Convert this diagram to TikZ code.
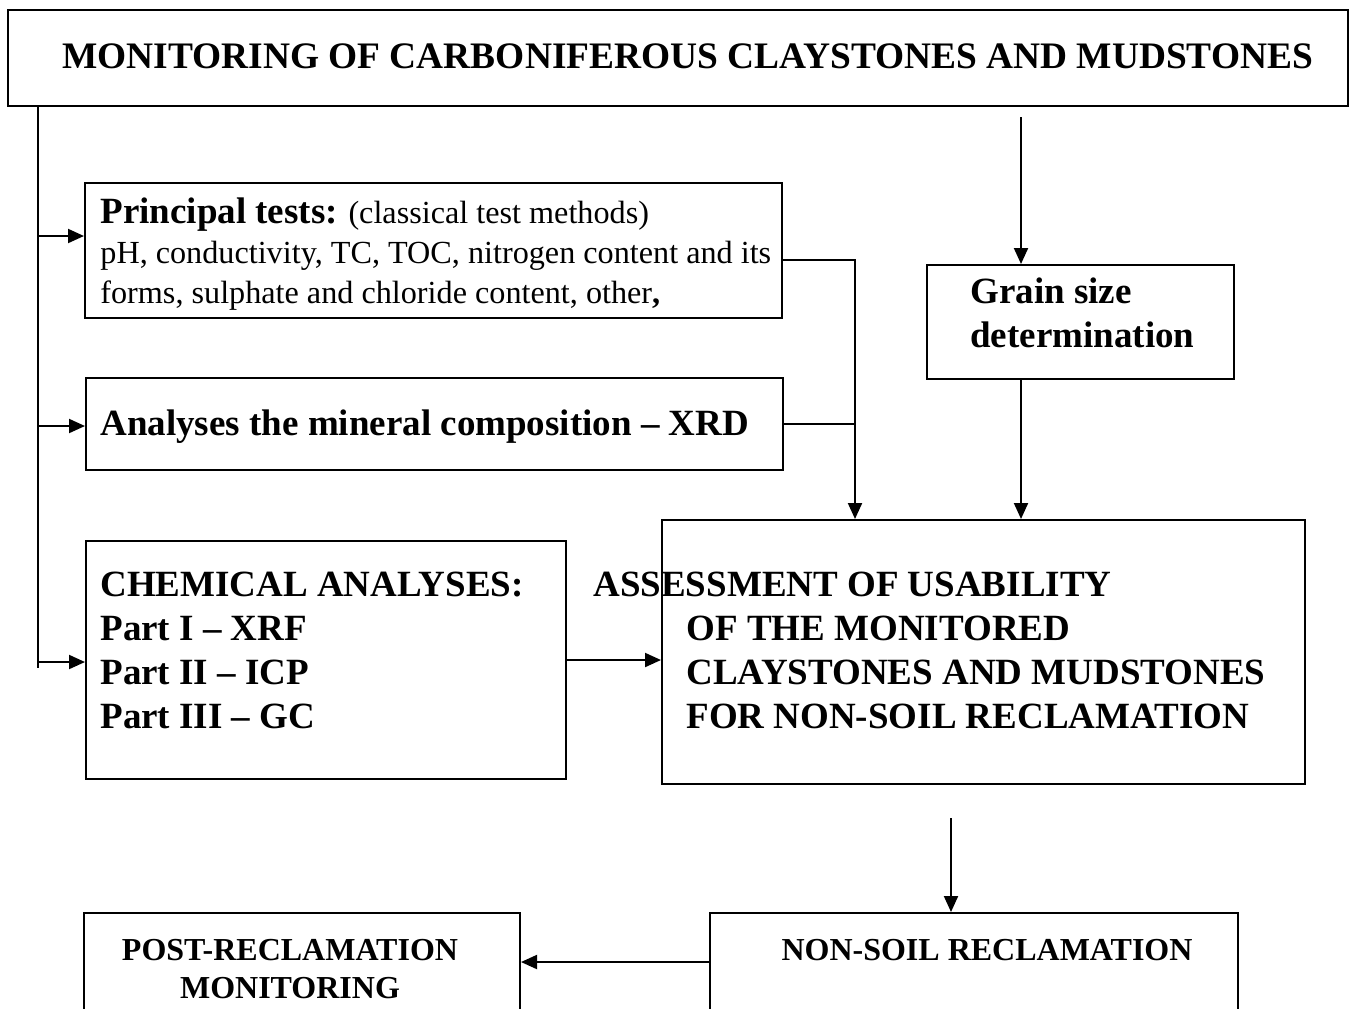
\documentclass[tikz,border=0pt]{standalone}
\usepackage{fontspec}
\setmainfont{Liberation Serif}
\usetikzlibrary{arrows.meta,fit}
\newcommand{\bigbf}{\fontsize{18.5}{21.85}\selectfont\bfseries}

\begin{document}
\begin{tikzpicture}[x=0.5pt, y=-0.5pt,
  box/.style={draw=black, line width=1pt, inner sep=0pt, fit={#1}},
  txt/.style={anchor=base west, inner sep=0pt, align=left, font=\bigbf},
  lowtxt/.style={anchor=base, inner sep=0pt, align=center,
                 font=\fontsize{16}{19}\selectfont\bfseries},
  arr/.style={-{Triangle[length=8pt,width=7pt]}, line width=1pt},
  wire/.style={line width=1pt}]
  \useasboundingbox (0,0) rectangle (1352,1008);
  % boxes
  \node[box={(8,10) (1348,106)}] (title) {};
  \node[box={(85,183) (782,318)}] (prin) {};
  \node[box={(86,378) (783,470)}] (mineral) {};
  \node[box={(86,541) (566,779)}] (chem) {};
  \node[box={(927,265) (1234,379)}] (grain) {};
  \node[box={(662,520) (1305,784)}] (assess) {};
  \node[box={(84,913) (520,1011)}] (post) {};
  \node[box={(710,913) (1238,1011)}] (nonsoil) {};
  % texts (base = last line)
  \node[txt, font=\fontsize{18.7}{21.85}\selectfont\bfseries] (ttitle) at (62,68)
    {MONITORING OF CARBONIFEROUS CLAYSTONES AND MUDSTONES};
  \node[txt, font=\fontsize{16.1}{20}\selectfont] (tprin) at (100,303)
    {\textbf{\fontsize{18.5}{20}\selectfont Principal tests:} (classical test methods)\\
     pH, conductivity, TC, TOC, nitrogen content and its\\
     forms, sulphate and chloride content, other\textbf{,}};
  \node[txt] (tmin) at (100,435) {Analyses the mineral composition -- XRD};
  \node[txt] (tchem) at (100,728) {CHEMICAL ANALYSES:\\Part I -- XRF\\Part II -- ICP\\Part III -- GC};
  \node[txt] (tgrain) at (970,347) {Grain size\\determination};
  \node[txt] (tassess) at (593,728) {ASSESSMENT OF USABILITY\\
    \hspace*{46.5pt}OF THE MONITORED\\
    \hspace*{46.5pt}CLAYSTONES AND MUDSTONES\\
    \hspace*{46.5pt}FOR NON-SOIL RECLAMATION};
  \node[lowtxt] (tpost) at (290,998) {POST-RECLAMATION\\MONITORING};
  \node[lowtxt] (tnon) at (987,960) {NON-SOIL RECLAMATION};
  % left trunk
  \coordinate (t1) at (38,236);
  \coordinate (t2) at (38,426);
  \coordinate (t3) at (38,662);
  \coordinate (t4) at (38,668);
  \draw[wire] (title.south -| t1) -- (t4);
  \draw[arr] (t1) -- (t1 -| prin.west);
  \draw[arr] (t2) -- (t2 -| mineral.west);
  \draw[arr] (t3) -- (t3 -| chem.west);
  % tests to assessment
  \coordinate (j1) at (855,260);
  \draw[arr] (j1 -| prin.east) -- (j1) -- (j1 |- assess.north);
  \draw[wire] (mineral.east) -- (mineral.east -| j1);
  \draw[arr] (chem.east) -- (chem.east -| assess.west);
  % grain size
  \coordinate (g0) at (1021,117);
  \draw[arr] (g0) -- (g0 |- grain.north);
  \draw[arr] (grain.south -| g0) -- (g0 |- assess.north);
  % reclamation
  \coordinate (a0) at (951,818);
  \draw[arr] (a0) -- (a0 |- nonsoil.north);
  \draw[arr] (nonsoil.west) -- (post.east);
\end{tikzpicture}
\end{document}
